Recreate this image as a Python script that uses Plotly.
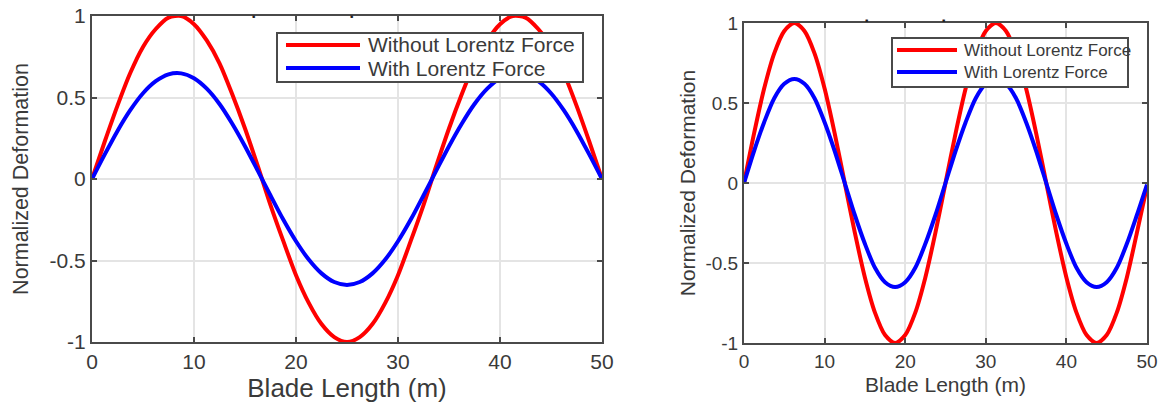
import plotly.graph_objects as go

# ---- data ----
x_vals = [1.25 * k for k in range(41)]  # 0 .. 50 in steps of 1.25

red_left = [0, 0.23, 0.45, 0.65, 0.81, 0.92, 0.99, 1.0, 0.95, 0.85, 0.71, 0.52, 0.31, 0.08,
            -0.16, -0.38, -0.59, -0.76, -0.89, -0.97, -1.0, -0.97, -0.89, -0.76, -0.59, -0.38,
            -0.16, 0.08, 0.31, 0.52, 0.71, 0.85, 0.95, 1.0, 0.99, 0.92, 0.81, 0.65, 0.45, 0.23, 0]
blue_left = [0, 0.151, 0.295, 0.422, 0.526, 0.600, 0.642, 0.648, 0.618, 0.554, 0.460, 0.339, 0.201, 0.051,
             -0.101, -0.249, -0.382, -0.494, -0.579, -0.632, -0.65, -0.632, -0.579, -0.494, -0.382, -0.249,
             -0.101, 0.051, 0.201, 0.339, 0.460, 0.554, 0.618, 0.648, 0.642, 0.600, 0.526, 0.422, 0.295, 0.151, 0]

red_right = [0, 0.31, 0.59, 0.81, 0.95, 1.0, 0.95, 0.81, 0.59, 0.31, 0, -0.31, -0.59, -0.81,
             -0.95, -1.0, -0.95, -0.81, -0.59, -0.31, 0, 0.31, 0.59, 0.81, 0.95, 1.0, 0.95,
             0.81, 0.59, 0.31, 0, -0.31, -0.59, -0.81, -0.95, -1.0, -0.95, -0.81, -0.59, -0.31, -0.02]
blue_right = [0, 0.20, 0.38, 0.53, 0.62, 0.65, 0.62, 0.53, 0.38, 0.20, 0, -0.20, -0.38, -0.53,
              -0.62, -0.65, -0.62, -0.53, -0.38, -0.20, 0, 0.20, 0.38, 0.53, 0.62, 0.65, 0.62,
              0.53, 0.38, 0.20, 0, -0.20, -0.38, -0.53, -0.62, -0.65, -0.62, -0.53, -0.38, -0.20, -0.01]

series_names = ["Without Lorentz Force", "With Lorentz Force"]
series_colors = ["#ff0000", "#0000ff"]
x_ticks = [0, 10, 20, 30, 40, 50]
y_ticks = [-1, -0.5, 0, 0.5, 1]
y_ticktext = ["-1", "-0.5", "0", "0.5", "1"]
x_title = "Blade Length (m)"
y_title = "Normalized Deformation"

W, H = 1163, 407
FONT = "Liberation Sans, Arial, sans-serif"
AXC = "#4a4a4a"
TXT = "#3a3a3a"
GRID = "#e4e4e4"


def px(x):
    return x / W


def py(y):
    return 1 - y / H


fig = go.Figure()
for xs, ys_list, xa, ya in [(x_vals, [red_left, blue_left], "x", "y"),
                            (x_vals, [red_right, blue_right], "x2", "y2")]:
    for name, color, ys in zip(series_names, series_colors, ys_list):
        fig.add_trace(go.Scatter(x=xs, y=ys, name=name, mode="lines", showlegend=False,
                                 line=dict(color=color, width=4, shape="spline", smoothing=0.8),
                                 xaxis=xa, yaxis=ya))


def xax(domain, anchor, fs, tfs, standoff):
    return dict(domain=domain, anchor=anchor, range=[0, 50], tickvals=x_ticks,
                showline=True, mirror="ticks", linecolor=AXC, linewidth=2,
                ticks="inside", ticklen=5, tickcolor=AXC, tickwidth=2,
                showgrid=True, gridcolor=GRID, gridwidth=1.5, zeroline=False,
                automargin=False,
                tickfont=dict(family=FONT, size=fs, color=TXT),
                title=dict(text=x_title, font=dict(family=FONT, size=tfs, color=TXT), standoff=standoff))


def yax(domain, anchor, fs, tfs, standoff):
    return dict(domain=domain, anchor=anchor, range=[-1, 1], tickvals=y_ticks, ticktext=y_ticktext,
                showline=True, mirror="ticks", linecolor=AXC, linewidth=2,
                ticks="inside", ticklen=5, tickcolor=AXC, tickwidth=2,
                showgrid=True, gridcolor=GRID, gridwidth=1.5, zeroline=False,
                automargin=False,
                tickfont=dict(family=FONT, size=fs, color=TXT),
                title=dict(text=y_title, font=dict(family=FONT, size=tfs, color=TXT), standoff=standoff))


fig.update_layout(
    width=W, height=H,
    margin=dict(l=0, r=0, t=0, b=0, autoexpand=False),
    paper_bgcolor="white", plot_bgcolor="white",
    showlegend=False,
    xaxis=xax([px(92), px(602)], "y", 21, 26, 4),
    yaxis=yax([py(342), py(16)], "x", 21, 21.5, 15),
    xaxis2=xax([px(744), px(1147)], "y2", 19, 21, 7),
    yaxis2=yax([py(343), py(23)], "x2", 19, 21, 4),
)

# ---- legends (drawn in paper coordinates) ----
legends = [
    dict(box=(277, 583, 33, 82), line=(286, 360), rows=(45, 68), tx=366, fs=21),
    dict(box=(892, 1128, 38, 87), line=(897, 957), rows=(50, 72), tx=962, fs=17),
]
for lg in legends:
    bx0, bx1, by0, by1 = lg["box"]
    fig.add_shape(type="rect", xref="paper", yref="paper",
                  x0=px(bx0), x1=px(bx1), y0=py(by1), y1=py(by0),
                  line=dict(color=AXC, width=2), fillcolor="white", layer="above")
    for name, color, ry in zip(series_names, series_colors, lg["rows"]):
        fig.add_shape(type="line", xref="paper", yref="paper",
                      x0=px(lg["line"][0]), x1=px(lg["line"][1]), y0=py(ry), y1=py(ry),
                      line=dict(color=color, width=4), layer="above")
        fig.add_annotation(x=px(lg["tx"]), y=py(ry), xref="paper", yref="paper",
                           xanchor="left", yanchor="middle", text=name, showarrow=False,
                           font=dict(family=FONT, size=lg["fs"], color=TXT))

# remnants of a cropped title above each panel
for dx, dy in [(250, 11), (348, 11), (870, 15), (947, 15)]:
    fig.add_annotation(x=px(dx), y=py(dy), xref="paper", yref="paper",
                       text="■", showarrow=False, font=dict(family=FONT, size=5, color="#222222"))

fig.write_html("out.html")
